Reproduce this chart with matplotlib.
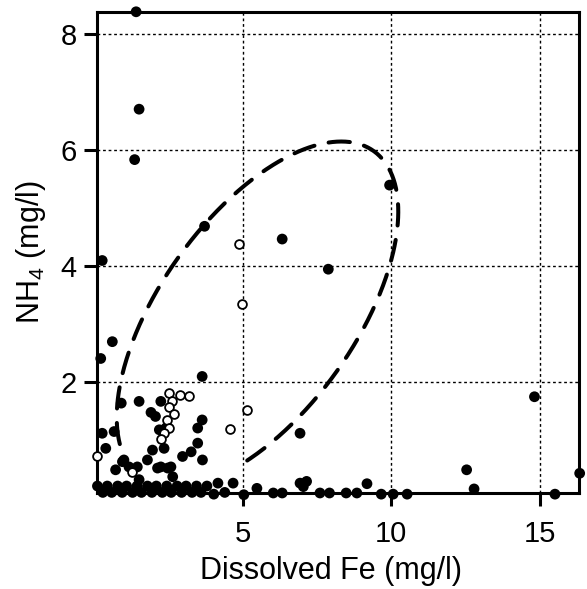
"""
NH4 vs dissolved Fe scatter with dotted grid and a dashed hand-drawn envelope.
"""
import matplotlib

matplotlib.use("Agg")
import matplotlib.pyplot as plt
import numpy as np

# filled circles (Fe mg/l, NH4 mg/l)
filled_fe = [
    1.42, 1.52, 1.37, 3.72, 6.33, 7.88, 9.94, 0.28, 0.62, 0.23, 3.64, 14.81,
    16.33, 12.53, 12.78, 15.50, 6.93, 9.18,
    0.92, 1.52, 2.25, 1.92, 2.07, 2.20, 2.42, 3.64, 3.49, 3.49, 3.27, 2.98,
    3.65, 2.36, 1.97, 1.80, 1.46, 0.96, 1.01, 0.40, 0.28, 0.68, 0.73, 2.14,
    2.48, 2.65, 1.52, 1.18, 2.25, 2.59,
    0.12, 0.45, 0.80, 1.10, 1.45, 1.80, 2.10, 2.45, 2.80, 3.10, 3.45, 3.80,
    4.17, 4.68,
    0.30, 0.60, 0.95, 1.30, 1.60, 1.95, 2.30, 2.60, 2.95, 3.30, 3.60, 4.03,
    4.40, 5.04,
    5.48, 6.03, 6.33, 6.93, 7.15, 7.04, 7.60, 7.92, 8.48, 8.84, 9.66, 10.06,
    10.53,
]
filled_nh4 = [
    8.38, 6.70, 5.83, 4.68, 4.46, 3.94, 5.39, 4.09, 2.69, 2.40, 2.09, 1.74,
    0.42, 0.48, 0.15, 0.06, 1.11, 0.24,
    1.63, 1.66, 1.66, 1.47, 1.40, 1.17, 1.20, 1.34, 1.20, 0.94, 0.79, 0.71,
    0.65, 0.85, 0.82, 0.65, 0.53, 0.62, 0.65, 0.85, 1.11, 1.14, 0.48, 0.51,
    0.51, 0.36, 0.31, 0.53, 0.53, 0.53,
    0.20, 0.20, 0.20, 0.20, 0.20, 0.20, 0.20, 0.20, 0.20, 0.20, 0.20, 0.20,
    0.25, 0.25,
    0.09, 0.09, 0.09, 0.09, 0.09, 0.09, 0.09, 0.09, 0.09, 0.09, 0.09, 0.06,
    0.09, 0.05,
    0.16, 0.08, 0.08, 0.25, 0.28, 0.19, 0.08, 0.08, 0.08, 0.08, 0.06, 0.06,
    0.06,
]

# open circles
open_fe = [4.89, 4.99, 5.16, 4.56, 2.53, 2.91, 3.19, 2.62, 2.53, 2.70, 2.46,
           2.53, 2.36, 2.25, 1.29, 0.10]
open_nh4 = [4.37, 3.34, 1.51, 1.18, 1.80, 1.77, 1.75, 1.66, 1.57, 1.44, 1.34,
            1.20, 1.11, 1.01, 0.45, 0.72]

x_ticks = [5, 10, 15]
y_ticks = [2, 4, 6, 8]

# dashed envelope: centre + two conjugate semi-axes (data units)
ell_center = (5.50, 3.16)
ell_major = (3.90, 2.82)
ell_minor = (2.68, -0.97)
ell_t = (-2.75, 2.25)


def main() -> None:
    plt.rcParams["font.family"] = ["Liberation Sans", "DejaVu Sans"]
    plt.rcParams["mathtext.fontset"] = "custom"
    plt.rcParams["mathtext.rm"] = "Liberation Sans"

    fig = plt.figure(figsize=(5.87, 5.89), dpi=100)
    ax = fig.add_axes([0.165, 0.163, 0.821, 0.817])

    ax.set_xlim(0.1, 16.3)
    ax.set_ylim(0.08, 8.38)

    ax.set_xticks(x_ticks)
    ax.set_yticks(y_ticks)
    ax.grid(True, color="k", linestyle=(0, (2, 2)), linewidth=1.0)
    ax.set_axisbelow(True)

    t = np.linspace(ell_t[0], ell_t[1], 400)
    ex = ell_center[0] + ell_major[0] * np.cos(t) + ell_minor[0] * np.sin(t)
    ey = ell_center[1] + ell_major[1] * np.cos(t) + ell_minor[1] * np.sin(t)
    ax.plot(ex, ey, color="k", lw=2.9, linestyle=(0, (5.3, 3.6)),
            dash_capstyle="round", zorder=2)

    ax.scatter(filled_fe, filled_nh4, s=60, c="k", edgecolors="none",
               zorder=3, clip_on=False)
    ax.scatter(open_fe, open_nh4, s=40, facecolors="white", edgecolors="k",
               linewidths=1.3, zorder=4, clip_on=False)

    for s in ax.spines.values():
        s.set_linewidth(2.2)
    ax.tick_params(direction="out", length=9.5, width=2.2, labelsize=21,
                   top=False, right=False)
    ax.tick_params(axis="x", pad=10)
    ax.tick_params(axis="y", pad=5)

    ax.set_xlabel("Dissolved Fe (mg/l)", fontsize=22)
    ax.xaxis.set_label_coords(0.485, -0.13)
    ax.set_ylabel("NH$_4$ (mg/l)", fontsize=22, labelpad=9)

    fig.savefig("out.png", dpi=100)


if __name__ == "__main__":
    main()
